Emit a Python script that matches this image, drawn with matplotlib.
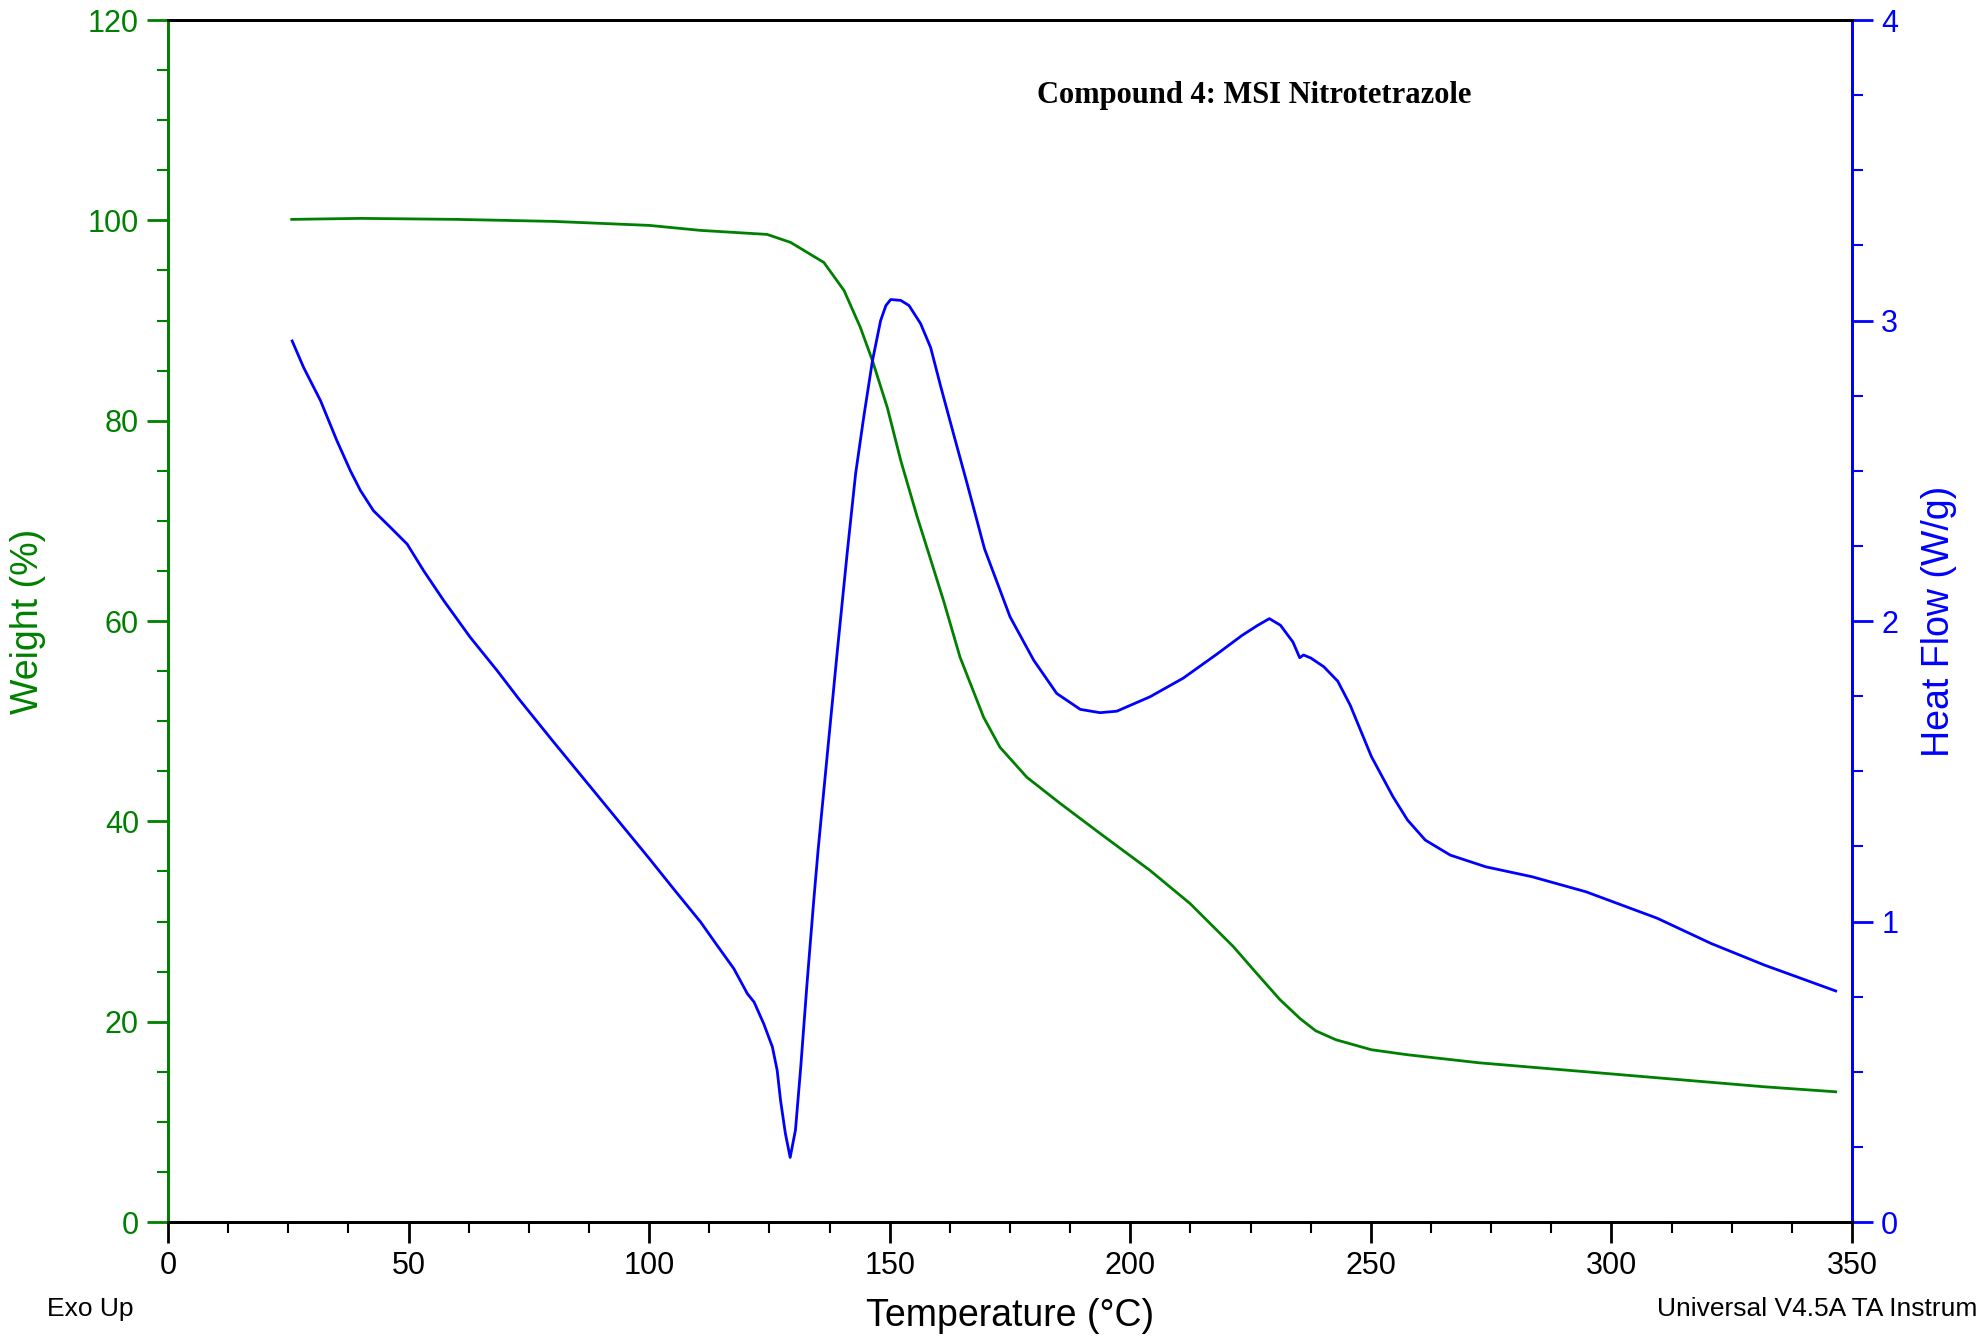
import numpy as np
import matplotlib.pyplot as plt
from matplotlib.ticker import MultipleLocator

# TGA weight curve
weight_temp = [25.7, 40, 60, 80, 100, 110.7, 124.5, 129.4, 136.3, 140.5, 143.9, 146.4,
               149.5, 152.3, 155.7, 158.0, 161.2, 164.6, 169.5, 172.9, 178.5, 185.4,
               193.7, 204.1, 212.4, 221.4, 226.3, 231.1, 235.3, 238.5, 242.7, 250.1,
               257.6, 272.4, 294.7, 309.5, 331.8, 346.6]
weight_pct = [100.1, 100.2, 100.1, 99.9, 99.5, 99.0, 98.6, 97.8, 95.8, 93.0, 89.3, 86.0,
              81.3, 76.0, 70.4, 66.9, 62.0, 56.4, 50.4, 47.4, 44.4, 41.8, 38.8, 35.1,
              31.8, 27.5, 24.8, 22.2, 20.3, 19.1, 18.2, 17.2, 16.7, 15.9, 15.0, 14.4,
              13.5, 13.0]

# DSC heat flow curve
heat_temp = [25.8, 28.2, 31.7, 35.1, 37.9, 40.0, 42.7, 46.2, 49.7, 53.1, 57.3, 62.8,
             68.4, 72.9, 80, 90, 100, 105, 110.7, 114.1, 117.6, 120.4, 121.8, 123.8,
             125.6, 126.6, 127.3, 128.3, 129.3, 130.4, 131.5, 132.8, 134.2, 135.1,
             137.1, 139.1, 141.2, 142.9, 144.6, 146.4, 148.1, 149.2, 150.2, 152.3,
             154.0, 156.4, 158.5, 160.6, 163.3, 166.1, 169.7, 175.0, 179.9, 184.7,
             189.6, 193.7, 197.2, 204.1, 211.0, 218.0, 223.2, 226.4, 228.9, 231.2,
             233.8, 235.2, 236.0, 237.5, 240.2, 243.1, 245.7, 250.1, 254.6, 257.6,
             261.3, 266.5, 273.9, 283.5, 294.7, 309.5, 320.7, 331.8, 346.6]
heat_flow = [2.932, 2.843, 2.733, 2.60, 2.50, 2.434, 2.367, 2.312, 2.256, 2.168, 2.068,
             1.946, 1.835, 1.741, 1.60, 1.405, 1.21, 1.11, 0.998, 0.921, 0.843, 0.76,
             0.732, 0.66, 0.583, 0.505, 0.405, 0.295, 0.215, 0.306, 0.516, 0.793, 1.07,
             1.237, 1.57, 1.90, 2.234, 2.49, 2.68, 2.866, 3.0, 3.05, 3.07, 3.067, 3.05,
             2.99, 2.91, 2.78, 2.62, 2.456, 2.24, 2.014, 1.870, 1.759, 1.706, 1.695,
             1.700, 1.748, 1.81, 1.89, 1.952, 1.985, 2.008, 1.986, 1.93, 1.878, 1.887,
             1.877, 1.848, 1.80, 1.72, 1.549, 1.415, 1.338, 1.271, 1.221, 1.182, 1.149,
             1.099, 1.011, 0.927, 0.855, 0.769]

green = '#008000'
blue = '#0000ff'
plt.rcParams['font.family'] = ['Liberation Sans', 'DejaVu Sans']

fig = plt.figure(figsize=(19.77, 13.37), dpi=100)
ax = fig.add_axes([0.085, 0.086, 0.8518, 0.899])
ax2 = ax.twinx()

ax.plot(weight_temp, weight_pct, color=green, lw=2)
ax2.plot(heat_temp, heat_flow, color=blue, lw=2)

ax.set_xlim(0, 350)
ax.set_ylim(0, 120)
ax2.set_ylim(0, 4)

ax.xaxis.set_major_locator(MultipleLocator(50))
ax.xaxis.set_minor_locator(MultipleLocator(12.5))
ax.yaxis.set_major_locator(MultipleLocator(20))
ax.yaxis.set_minor_locator(MultipleLocator(5))
ax2.yaxis.set_major_locator(MultipleLocator(1))
ax2.yaxis.set_minor_locator(MultipleLocator(0.25))

ax.tick_params(axis='x', which='major', direction='out', length=15, width=2, labelsize=22, pad=6)
ax.tick_params(axis='x', which='minor', direction='out', length=8, width=1.5)
ax.tick_params(axis='y', which='major', direction='out', length=15, width=2, colors=green, labelsize=22, pad=6)
ax.tick_params(axis='y', which='minor', direction='out', length=8, width=1.5, colors=green)
ax2.tick_params(axis='y', which='major', direction='out', length=15, width=2, colors=blue, labelsize=22, pad=6)
ax2.tick_params(axis='y', which='minor', direction='out', length=8, width=1.5, colors=blue)

for a in (ax, ax2):
    for s in a.spines.values():
        s.set_linewidth(2)
    a.spines['left'].set_color(green)
    a.spines['right'].set_color(blue)

ax.set_xlabel('Temperature (°C)', fontsize=27, labelpad=12)
ax.set_ylabel('Weight (%)', fontsize=27, color=green, labelpad=30)
ax2.set_ylabel('Heat Flow (W/g)', fontsize=27, color=blue, labelpad=16)

ax.text(0.645, 0.937, 'Compound 4: MSI Nitrotetrazole', transform=ax.transAxes,
        ha='center', va='center', fontsize=22, fontweight='bold', family='Liberation Serif')

fig.text(0.024, 0.021, 'Exo Up', fontsize=19, ha='left', va='center')
fig.text(0.838, 0.021, 'Universal V4.5A TA Instruments', fontsize=19, ha='left', va='center')

fig.savefig('out.png', dpi=100)
